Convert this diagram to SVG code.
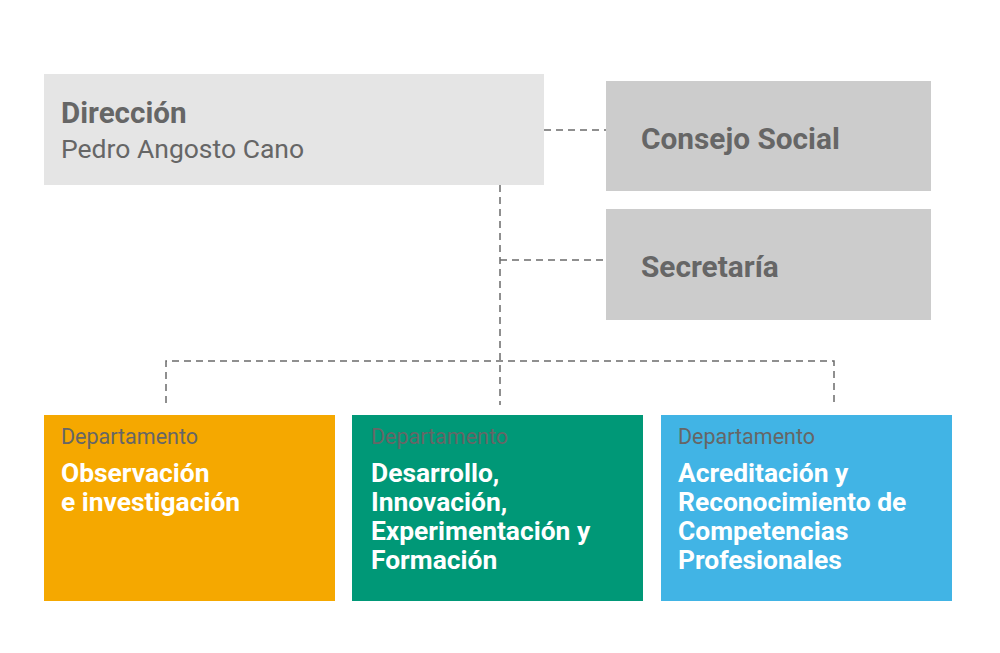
<svg xmlns="http://www.w3.org/2000/svg" width="1000" height="653" viewBox="0 0 1000 653">
<style>
.t{font-family:Roboto,"Liberation Sans",sans-serif}
.b{font-weight:700}
.g{fill:#666666}
.w{fill:#ffffff}
.d{font-size:21.5px}
.h{font-size:26.4px}
.con{fill:none;stroke:#6b6b6b;stroke-width:1.5;stroke-dasharray:7 5}
</style>
<rect width="1000" height="653" fill="#ffffff"/>
<g id="connectors">
<path class="con" d="M544 130H606"/>
<path class="con" d="M500 185V405"/>
<path class="con" d="M500 260H606"/>
<path class="con" d="M166 403V361H834V403"/>
</g>
<g id="direccion">
<rect x="44" y="74" width="500" height="111" fill="#e5e5e5"/>
<text class="t b g" x="61" y="123" font-size="29.6">Dirección</text>
<text class="t g" x="61" y="158" font-size="26.5">Pedro Angosto Cano</text>
</g>
<g id="consejo">
<rect x="606" y="81" width="325" height="110" fill="#cccccc"/>
<text class="t b g" x="641" y="149" font-size="29.8">Consejo Social</text>
</g>
<g id="secretaria">
<rect x="606" y="209" width="325" height="111" fill="#cccccc"/>
<text class="t b g" x="641" y="277" font-size="29.8">Secretaría</text>
</g>
<g id="dep1">
<rect x="44" y="415" width="291" height="186" fill="#f5a800"/>
<text class="t g d" x="61" y="444">Departamento</text>
<text class="t b w h"><tspan x="61" y="482">Observación</tspan><tspan x="61" y="511">e investigación</tspan></text>
</g>
<g id="dep2">
<rect x="352" y="415" width="291" height="186" fill="#009877"/>
<text class="t g d" x="371" y="444">Departamento</text>
<text class="t b w h"><tspan x="371" y="482">Desarrollo,</tspan><tspan x="371" y="511">Innovación,</tspan><tspan x="371" y="540">Experimentación y</tspan><tspan x="371" y="569">Formación</tspan></text>
</g>
<g id="dep3">
<rect x="661" y="415" width="291" height="186" fill="#41b4e5"/>
<text class="t g d" x="678" y="444">Departamento</text>
<text class="t b w h"><tspan x="678" y="482">Acreditación y</tspan><tspan x="678" y="511">Reconocimiento de</tspan><tspan x="678" y="540">Competencias</tspan><tspan x="678" y="569">Profesionales</tspan></text>
</g>
</svg>
